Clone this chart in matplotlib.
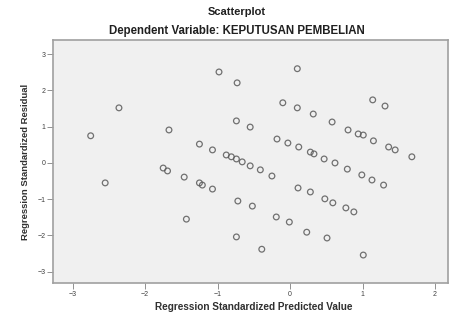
import matplotlib
matplotlib.use("Agg")
import matplotlib.pyplot as plt

plt.rcParams['font.family'] = ['Liberation Sans', 'DejaVu Sans']

# standardized predicted value (x) and studentized residual (y)
pred = [-2.75, -2.55, -2.36, -0.98, -0.73, 0.10, -1.67, -0.74, -0.55,
        -0.10, 0.10, 0.32, 0.58, 0.80, 0.94, 1.01, 1.15, 1.36, 1.45, 1.68, 1.14, 1.31,
        -1.25, -1.07, -0.88, -0.81, -0.74, -0.66, -0.55, -0.41, -0.25, 0.11, 0.28, 0.48, 0.59, 0.77, 0.88,
        -0.18, -0.03, 0.12, 0.28, 0.33, 0.47, 0.62, 0.79, 0.99, 1.13, 1.29,
        -1.75, -1.69, -1.46, -1.25, -1.21, -1.07, -0.72, -0.52, -0.19, -0.01, 0.23, 0.51,
        -1.43, -0.74, -0.39, 1.01]
resid = [0.75, -0.55, 1.52, 2.51, 2.21, 2.60, 0.91, 1.16, 0.99,
         1.66, 1.52, 1.35, 1.13, 0.91, 0.80, 0.77, 0.61, 0.44, 0.36, 0.17, 1.74, 1.57,
         0.52, 0.36, 0.22, 0.17, 0.11, 0.03, -0.08, -0.19, -0.36, -0.69, -0.80, -0.99, -1.10, -1.24, -1.35,
         0.66, 0.55, 0.44, 0.30, 0.25, 0.11, 0.00, -0.17, -0.33, -0.47, -0.61,
         -0.14, -0.22, -0.39, -0.55, -0.61, -0.72, -1.05, -1.19, -1.49, -1.63, -1.91, -2.07,
         -1.55, -2.04, -2.38, -2.54]

x_ticks = [-3, -2, -1, 0, 1, 2]
y_ticks = [-3, -2, -1, 0, 1, 2, 3]

fig = plt.figure(figsize=(4.49, 3.13), dpi=100)
ax = fig.add_axes([0.118, 0.096, 0.880, 0.776])
ax.set_facecolor('#f0f0f0')

ax.scatter(pred, resid, s=17, facecolors='none', edgecolors='#5a5a5a', linewidths=0.9, alpha=0.85)

ax.set_xlim(-3.27, 2.18)
ax.set_ylim(-3.31, 3.39)
ax.set_xticks(x_ticks)
ax.set_yticks(y_ticks)
ax.tick_params(labelsize=5, length=4, width=0.6, color='#808080', labelcolor='#404040', pad=1.5)
for sp in ax.spines.values():
    sp.set_color('#a0a0a0')
    sp.set_linewidth(1.2)

fig.text(0.528, 0.962, "Scatterplot", ha='center', va='center', fontsize=8, fontweight='bold', color='#202020')
fig.text(0.528, 0.901, "Dependent Variable: KEPUTUSAN PEMBELIAN", ha='center', va='center',
         fontsize=8.3, fontweight='bold', color='#202020')
fig.text(0.566, 0.018, "Regression Standardized Predicted Value", ha='center', va='center',
         fontsize=7.2, fontweight='bold', color='#303030')
ax.set_ylabel("Regression Standardized Residual", fontsize=6.8, fontweight='bold', color='#303030', labelpad=5)

fig.savefig("out.png", dpi=100, facecolor='white')
